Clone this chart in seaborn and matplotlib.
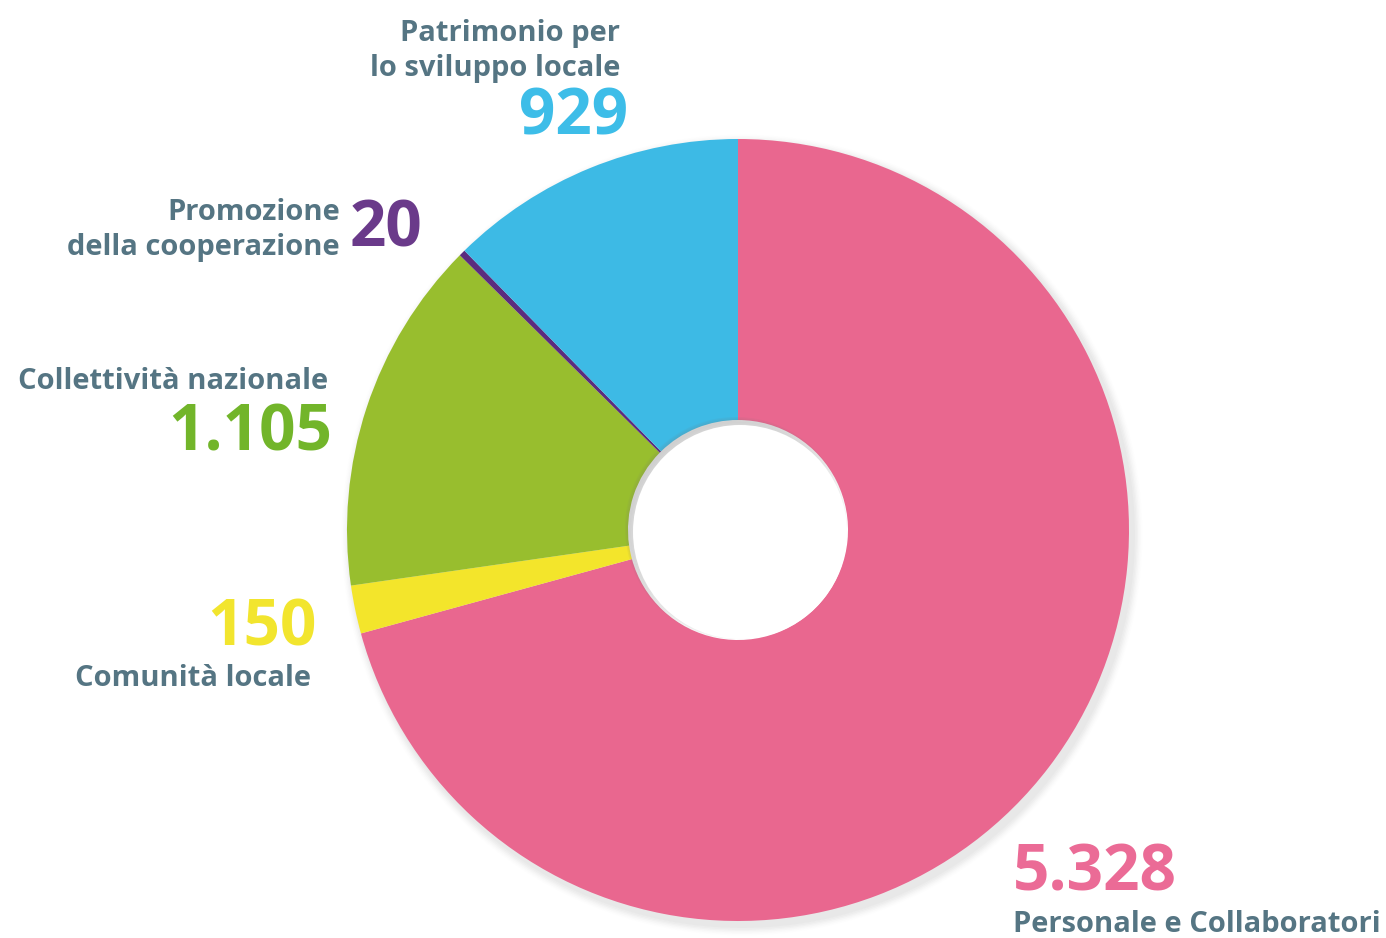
import matplotlib
matplotlib.use("Agg")
import matplotlib.pyplot as plt
import seaborn as sns
import numpy as np

sns.set_theme(style="white")
plt.rcParams['font.family'] = ['Open Sans', 'DejaVu Sans']

# Data (clockwise from 12 o'clock)
categories = ["Personale e Collaboratori", "Comunità locale", "Collettività nazionale",
              "Promozione della cooperazione", "Patrimonio per lo sviluppo locale"]
values = [5328, 150, 1105, 20, 929]
value_labels = ["5.328", "150", "1.105", "20", "929"]
wedge_colors = ["#E9678F", "#F3E52B", "#98BE2E", "#5B2C7E", "#3DBAE5"]
number_colors = ["#EB6B96", "#F2E52E", "#72B52A", "#6A3A8A", "#3DBDE8"]
label_color = "#557583"

W, H = 1386, 938
fig = plt.figure(figsize=(W / 100, H / 100), dpi=100)
ax = fig.add_axes([0, 0, 1, 1])
ax.set_xlim(0, W)
ax.set_ylim(0, H)

cx, cy = 738, H - 530
R, r_in = 391, 110

# soft shadow
for i, a in enumerate(np.linspace(0.05, 0.01, 6)):
    ax.pie([1], colors=["#888888"], radius=R + 2 + i * 1.5, center=(cx + 4, cy - 5),
           wedgeprops=dict(width=R - r_in + 4, alpha=a, linewidth=0), frame=True)

ax.pie(values, colors=wedge_colors, startangle=90, counterclock=False,
       radius=R, center=(cx, cy),
       wedgeprops=dict(width=R - r_in, linewidth=0), frame=True)

# inner hole shadow (top-left)
for i, a in enumerate(np.linspace(0.08, 0.015, 5)):
    circ = plt.Circle((cx - 2, cy + 2), r_in + 1 - i * 1.2, color="#777777", alpha=a, lw=0, zorder=5)
    ax.add_patch(circ)
ax.add_patch(plt.Circle((cx + 2, cy - 2), r_in - 3, color="white", lw=0, zorder=6))

ax.set_xlim(0, W)
ax.set_ylim(0, H)
ax.axis("off")

lab_fs = 21
num_fs = 46

def T(x, y, s, color, fs, ha="right"):
    ax.text(x, H - y, s, color=color, fontsize=fs, fontweight="bold",
            ha=ha, va="center", zorder=10)

# Patrimonio
T(620, 33, "Patrimonio per", label_color, lab_fs)
T(620, 68, "lo sviluppo locale", label_color, lab_fs)
T(628, 118, value_labels[4], number_colors[4], num_fs)
# Promozione
T(340, 212, "Promozione", label_color, lab_fs)
T(340, 247, "della cooperazione", label_color, lab_fs)
T(350, 230, value_labels[3], number_colors[3], num_fs, ha="left")
# Collettività
T(328, 381, "Collettività nazionale", label_color, lab_fs)
T(332, 434, value_labels[2], number_colors[2], num_fs)
# Comunità
T(317, 629, value_labels[1], number_colors[1], num_fs)
T(311, 678, "Comunità locale", label_color, lab_fs)
# Personale
T(1013, 874, value_labels[0], number_colors[0], num_fs, ha="left")
T(1013, 924, "Personale e Collaboratori", label_color, lab_fs, ha="left")

fig.savefig("out.png", dpi=100, facecolor="white")
